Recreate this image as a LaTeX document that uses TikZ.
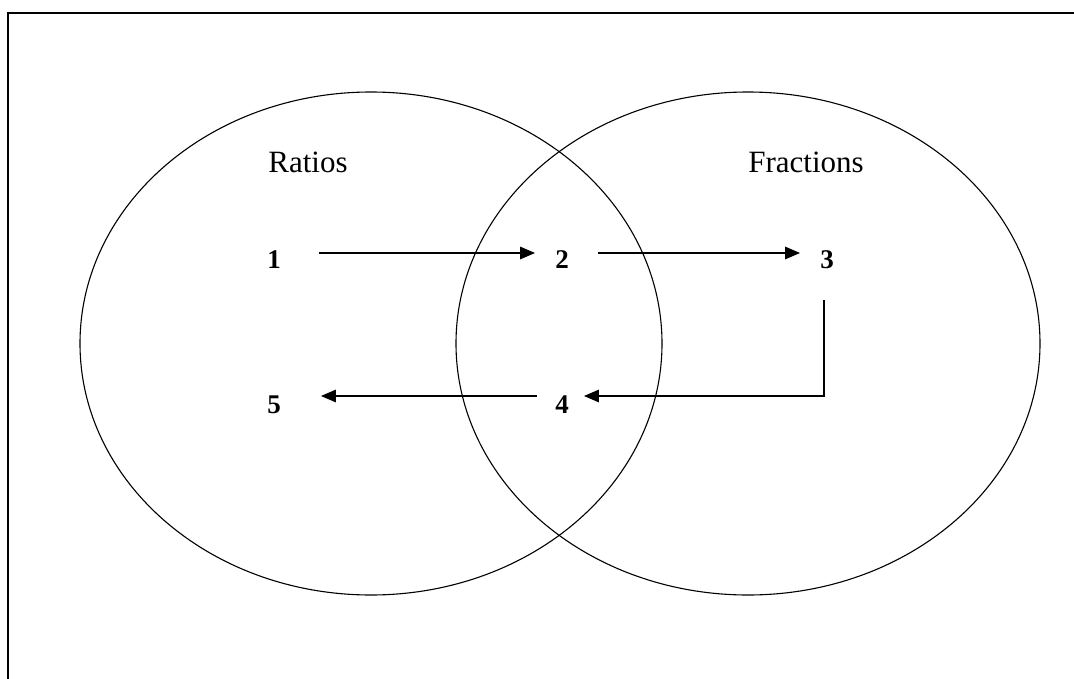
\documentclass[tikz,border=0pt]{standalone}
\usepackage{fontspec}
\setmainfont{Liberation Serif}
\usetikzlibrary{arrows.meta,calc}
\begin{document}
\begin{tikzpicture}[x=1pt,y=-1pt,
  frame/.style={line width=2pt,line cap=rect},
  venn/.style={line width=1.1pt},
  num/.style={font=\fontsize{27}{32}\selectfont\bfseries,inner sep=0pt,anchor=base},
  lbl/.style={font=\fontsize{31}{36}\selectfont,inner sep=0pt,anchor=base},
  arr/.style={line width=1.5pt,-{Triangle[length=15pt,width=12.5pt]}}]
\useasboundingbox (0,0) rectangle (1074,679);
% frame (top and left only)
\draw[frame] (7.5,679) -- (7.5,13.3) -- (1074,13.3);
% Venn circles
\draw[venn] (371,343.5) ellipse [x radius=291, y radius=251.5];
\draw[venn] (748,343.5) ellipse [x radius=292, y radius=251.5];
% labels
\node[lbl] (ratios) at (308,173) {Ratios};
\node[lbl] (fractions) at (806,173) {Fractions};
% numbers
\node[num] (n1) at (274,269) {1};
\node[num] (n2) at (562,269) {2};
\node[num] (n3) at (827,269) {3};
\node[num] (n4) at (562,413) {4};
\node[num] (n5) at (274,413) {5};
% connectors
\draw[arr] ($(n1.base east)+(38,-16)$) -- ($(n2.base west)+(-20,-16)$);
\draw[arr] ($(n2.base east)+(29,-16)$) -- ($(n3.base west)+(-20,-16)$);
\coordinate (c3) at ($(n3.base)+(-3,31)$);
\coordinate (c4) at ($(n4.base east)+(15,-17)$);
\draw[arr] (c3) -- (c3 |- c4) -- (c4);
\draw[arr] ($(n4.base west)+(-18,-17)$) -- ($(n5.base east)+(40,-17)$);
\end{tikzpicture}
\end{document}
